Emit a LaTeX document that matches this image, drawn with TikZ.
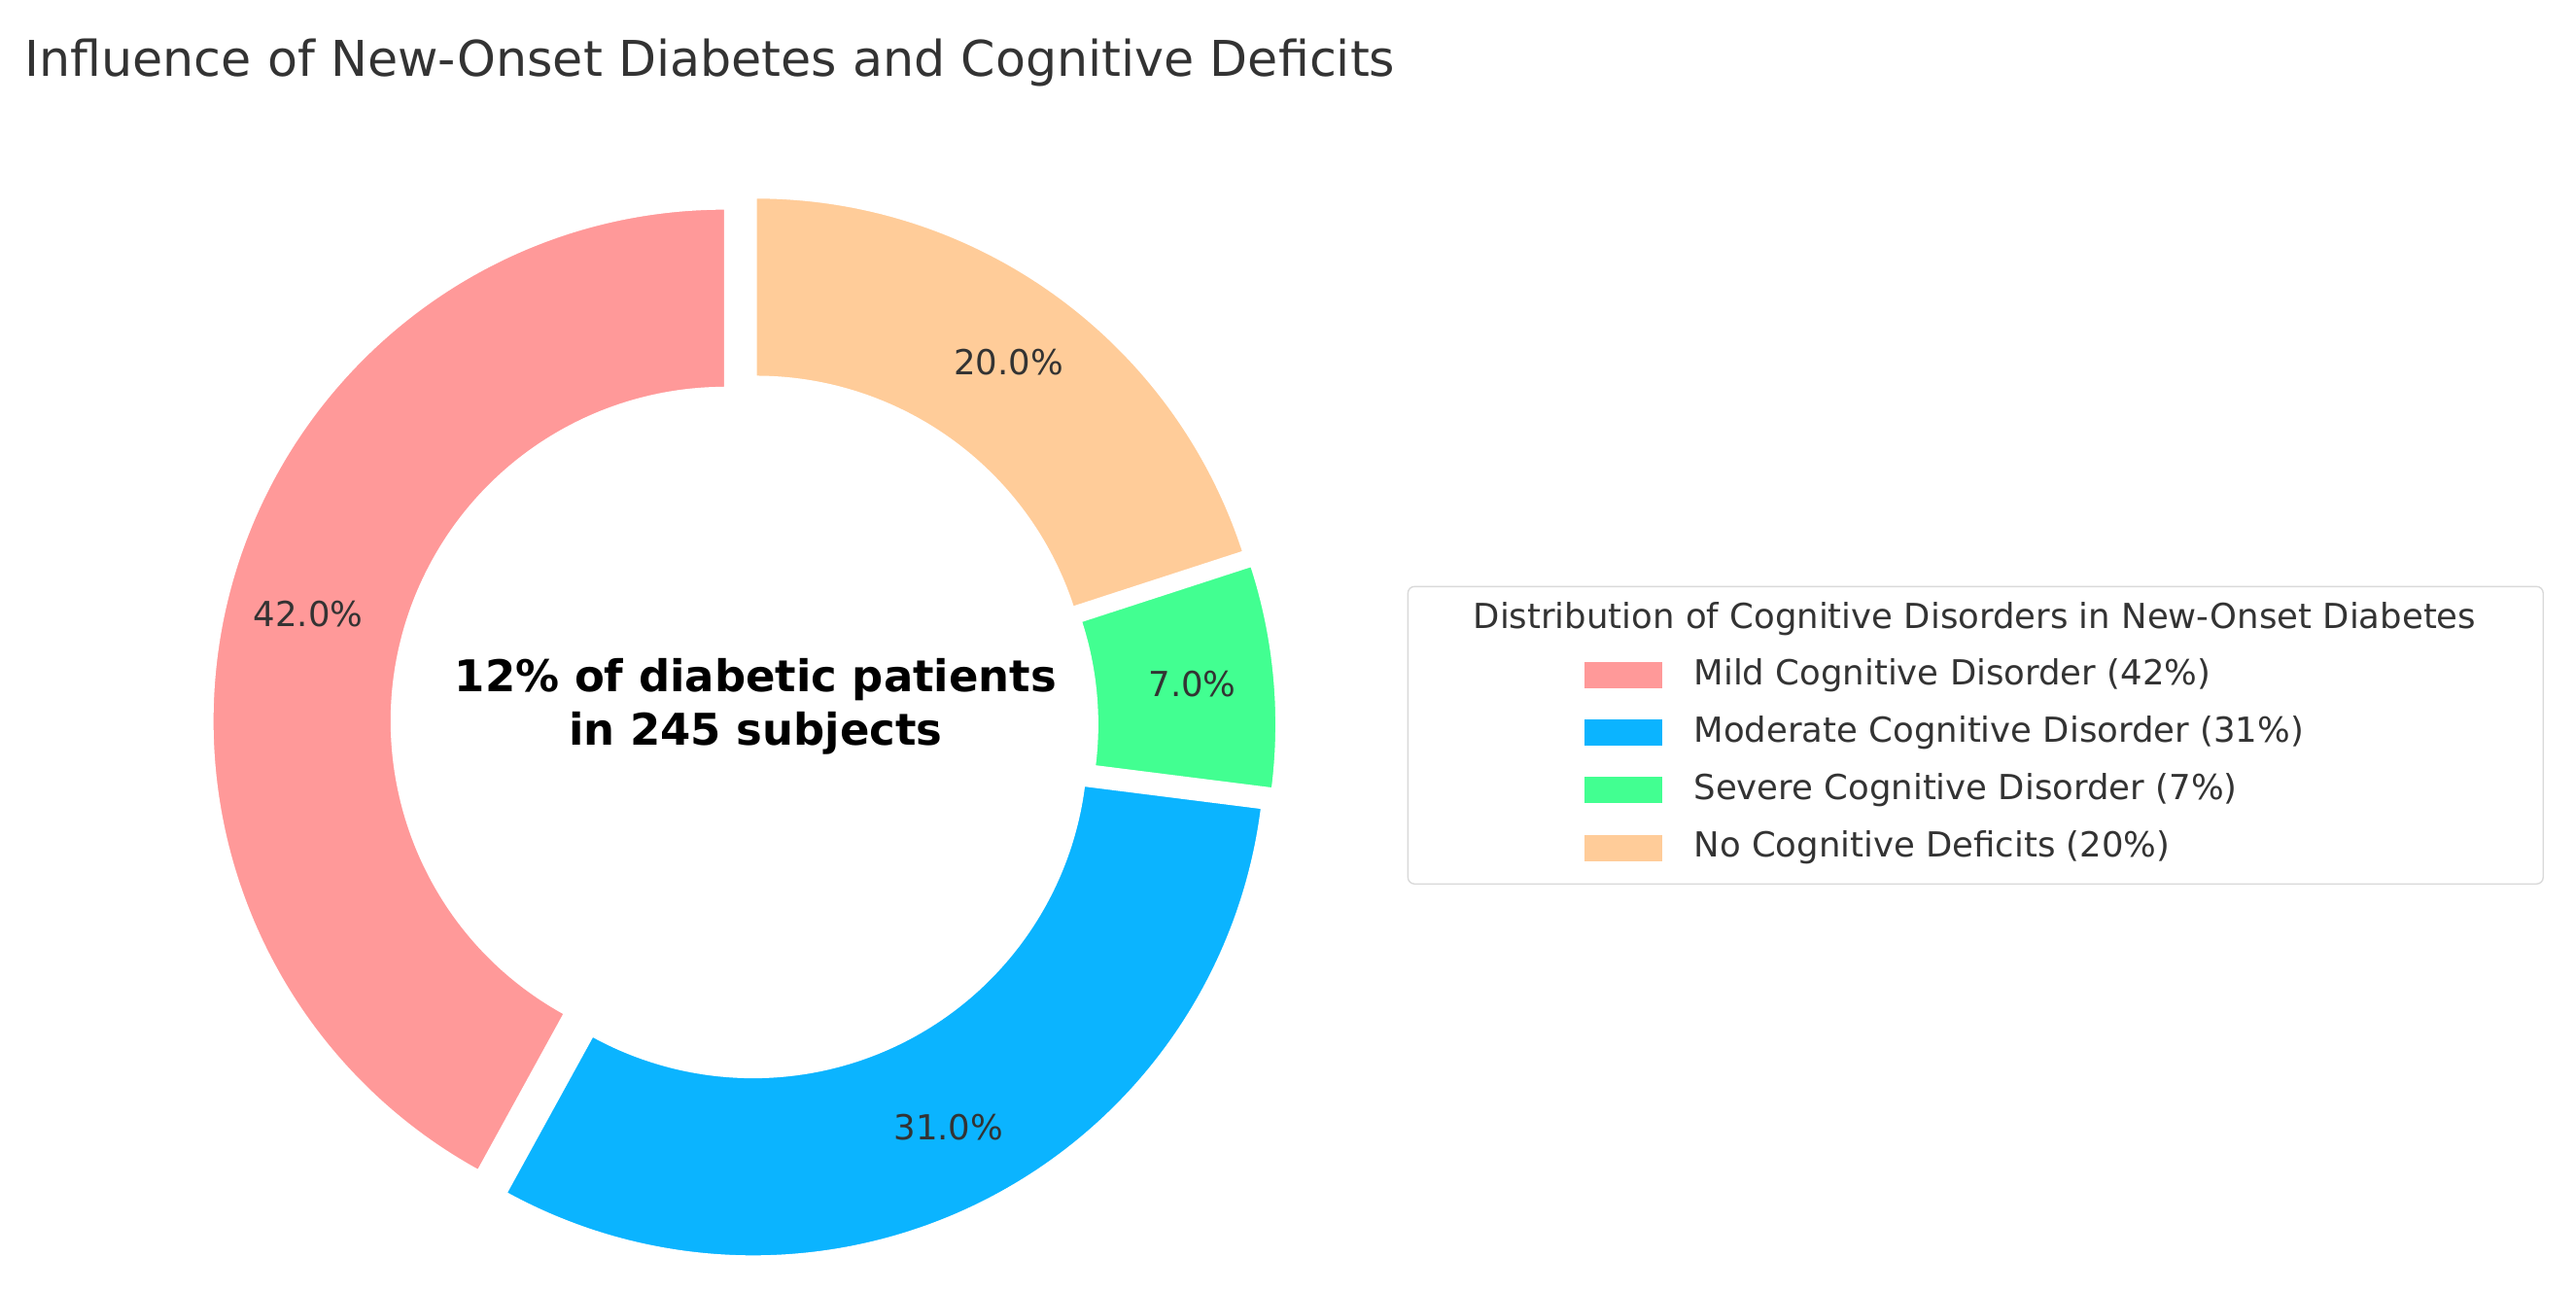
\documentclass[tikz,border=0pt]{standalone}
\usepackage{fontspec}
\setmainfont{DejaVu Sans}
\definecolor{cpink}{HTML}{FF9999}
\definecolor{cblue}{HTML}{0BB4FF}
\definecolor{cgreen}{HTML}{42FF91}
\definecolor{corange}{HTML}{FFCC99}
\definecolor{ctext}{HTML}{333333}
\tikzset{
 lbl/.style={font=\fontsize{10.5}{12}\selectfont, text=ctext},
 patch/.style={minimum width=23.5pt, minimum height=8pt, inner sep=0pt},
}
\newcommand{\wedgeat}[4]{% start, end, color, label
 \pgfmathsetmacro{\mid}{(#1+#2)/2}
 \begin{scope}[shift={(\mid:12)}]
  \fill[#3, draw=white, line width=0.6pt] (#1:312) arc[start angle=#1, end angle=#2, radius=312] -- (#2:203) arc[start angle=#2, end angle=#1, radius=203] -- cycle;
  \node[lbl] at (\mid:262) {#4};
 \end{scope}}
\begin{document}
\begin{tikzpicture}[x=0.5pt,y=0.5pt]
\useasboundingbox (0,0) rectangle (1568,786);
\fill[white] (0,0) rectangle (1568,786);
\node[anchor=west, text=ctext, font=\fontsize{15}{18}\selectfont] (title) at (8,748) {Influence of New-Onset Diabetes and Cognitive Deficits};
\begin{scope}[shift={(453,344)}]
 \wedgeat{90}{241.2}{cpink}{42.0\%}
 \wedgeat{241.2}{352.8}{cblue}{31.0\%}
 \wedgeat{352.8}{378}{cgreen}{7.0\%}
 \wedgeat{378}{450}{corange}{20.0\%}
 \node[align=center, font=\fontsize{13.3}{16.5}\selectfont\bfseries] (center) at (7,12) {12\% of diabetic patients\\in 245 subjects};
\end{scope}
\draw[rounded corners=2pt, draw=black!15, fill=white] (857,248) rectangle (1548,429);
\node[lbl] (ltitle) at (1202,409) {Distribution of Cognitive Disorders in New-Onset Diabetes};
\foreach \y/\c/\t [count=\i] in {375/cpink/Mild Cognitive Disorder (42\%),340/cblue/Moderate Cognitive Disorder (31\%),305/cgreen/Severe Cognitive Disorder (7\%),270/corange/No Cognitive Deficits (20\%)}{
 \node[patch, fill=\c] (p\i) at (988,\y) {};
 \node[lbl, anchor=west] (t\i) at (1024,\y) {\t};
}
\end{tikzpicture}
\end{document}
